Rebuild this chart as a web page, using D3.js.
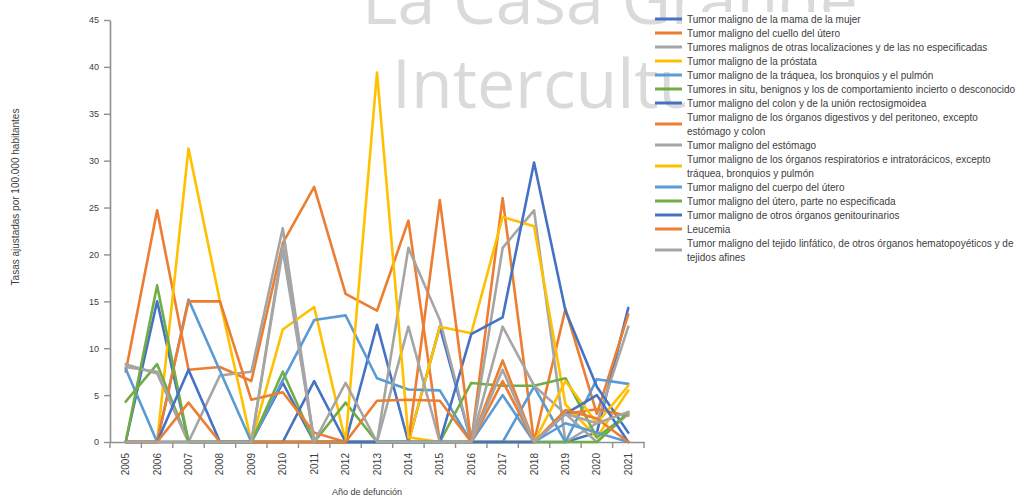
<!DOCTYPE html>
<html>
<head>
<meta charset="utf-8">
<script src="https://cdn.jsdelivr.net/npm/d3@7"></script>
<style>
  html, body { margin: 0; padding: 0; background: #fff; }
  svg { display: block; font-family: "Liberation Sans", Arial, sans-serif; }
</style>
</head>
<body>
<svg id="chart" width="1028" height="502"></svg>
<script>
// ---- Data -------------------------------------------------------------
const years = ["2005","2006","2007","2008","2009","2010","2011","2012","2013",
               "2014","2015","2016","2017","2018","2019","2020","2021"];
const yTicks = [0, 5, 10, 15, 20, 25, 30, 35, 40, 45];

const seriesNames = [
  "Tumor maligno de la mama de la mujer",
  "Tumor maligno del cuello del útero",
  "Tumores malignos de otras localizaciones y de las no especificadas",
  "Tumor maligno de la próstata",
  "Tumor maligno de la tráquea, los bronquios y el pulmón",
  "Tumores in situ, benignos y los de comportamiento incierto o desconocido",
  "Tumor maligno del colon y de la unión rectosigmoidea",
  "Tumor maligno de los órganos digestivos y del peritoneo, excepto estómago y colon",
  "Tumor maligno del estómago",
  "Tumor maligno de los órganos respiratorios e intratorácicos, excepto tráquea, bronquios y pulmón",
  "Tumor maligno del cuerpo del útero",
  "Tumor maligno del útero, parte no especificada",
  "Tumor maligno de otros órganos genitourinarios",
  "Leucemia",
  "Tumor maligno del tejido linfático, de otros órganos hematopoyéticos y de tejidos afines"
];

const mama           = [0, 15.0, 0, 0, 0, 6.3, 0, 0, 12.5, 0, 12.3, 0, 0, 0, 0, 1.0, 14.3];
const cuello         = [7.5, 24.7, 7.7, 8.0, 6.5, 21.2, 27.2, 15.8, 14.0, 23.6, 0, 0, 26.0, 0, 14.2, 3.0, 13.6];
const otras          = [8.3, 7.3, 0, 7.1, 7.5, 22.8, 0, 0, 0, 20.7, 13.0, 0, 20.7, 24.7, 0, 2.0, 12.3];
const prostata       = [0, 0, 31.3, 15.0, 0, 12.0, 14.4, 0, 0, 0, 12.3, 11.6, 24.0, 23.0, 4.0, 0.5, 5.5];
const traquea        = [7.8, 0, 15.2, 7.6, 0, 6.6, 13.0, 13.5, 6.8, 5.6, 5.5, 0, 0, 5.9, 0, 6.7, 6.2];
const inSitu         = [4.3, 8.3, 0, 0, 0, 7.5, 0, 4.2, 0, 0, 0, 6.3, 6.0, 6.0, 6.8, 0.5, 3.0];
const colon          = [0, 0, 0, 0, 0, 0, 6.5, 0, 0, 0, 0, 11.5, 13.3, 29.8, 14.0, 5.9, 1.0];
const digestivos     = [0, 0, 15.0, 15.0, 4.5, 5.3, 1.0, 0, 0, 0, 25.8, 0, 8.7, 0, 3.0, 3.5, 2.8];
const estomago       = [8.0, 7.5, 0, 0, 0, 21.0, 0, 0, 0, 12.3, 0, 0, 12.3, 6.0, 3.0, 0, 3.0];
const respiratorios  = [0, 0, 0, 0, 0, 0, 0, 0, 39.4, 0.5, 0, 0, 0, 0, 6.5, 2.0, 6.0];
const cuerpoUtero    = [0, 0, 0, 0, 0, 0, 0, 0, 0, 0, 0, 0, 5.0, 0, 2.0, 1.0, 0];
const uteroNoEspec   = [0, 16.7, 0, 0, 0, 0, 0, 0, 0, 0, 0, 0, 0, 0, 0, 0, 3.2];
const genitourinarios= [0, 0, 7.7, 0, 0, 0, 0, 0, 0, 0, 0, 0, 0, 0, 3.0, 5.0, 0];
const leucemia       = [0, 0, 4.2, 0, 0, 0, 0, 0, 4.4, 4.5, 4.4, 0, 6.5, 0, 3.4, 2.5, 0];
const linfatico      = [0, 0, 0, 0, 0, 20.5, 0, 6.3, 0, 0, 0, 0, 7.7, 0, 3.0, 2.0, 3.2];

const seriesValues = [mama, cuello, otras, prostata, traquea, inSitu, colon, digestivos,
                      estomago, respiratorios, cuerpoUtero, uteroNoEspec, genitourinarios,
                      leucemia, linfatico];

const palette = ["#4472C4", "#ED7D31", "#A5A5A5", "#FFC000", "#5B9BD5", "#70AD47"];

const series = seriesNames.map((name, i) => ({
  name,
  color: palette[i % palette.length],
  values: seriesValues[i].map((v, j) => ({ year: years[j], value: v }))
}));

// ---- Layout -----------------------------------------------------------
const svg = d3.select("#chart");
const plot = { left: 110, right: 644, top: 20, bottom: 442 };

const x = d3.scaleBand().domain(years).range([plot.left, plot.right]).padding(0);
const y = d3.scaleLinear().domain([0, 45]).range([plot.bottom, plot.top]);

// Background watermark
const wm = svg.append("g")
  .attr("font-family", "'Open Sans', 'DejaVu Sans', sans-serif")
  .attr("font-size", 68)
  .attr("fill", "#dadada");
wm.append("text").attr("x", 362).attr("y", 24).text("La Casa Grande");
wm.append("text").attr("x", 392).attr("y", 108).text("Intercultural");

// Y axis
const yAxis = svg.append("g")
  .attr("transform", `translate(${plot.left},0)`)
  .call(d3.axisLeft(y).tickValues(yTicks).tickSize(6).tickSizeOuter(0).tickPadding(5));
yAxis.select(".domain").attr("stroke", "#8f8f8f").attr("stroke-width", 1.6);
yAxis.selectAll(".tick line").attr("stroke", "#8f8f8f").attr("stroke-width", 1.4);
yAxis.selectAll(".tick text").attr("fill", "#404040").attr("font-size", 9)
  .attr("font-family", "'Liberation Sans', Arial, sans-serif");

// X axis: labels at band centres, tick marks at band edges
const xAxis = svg.append("g")
  .attr("transform", `translate(0,${plot.bottom})`)
  .call(d3.axisBottom(x).tickSize(0).tickSizeOuter(0).tickPadding(0));
xAxis.select(".domain").attr("stroke", "#8f8f8f").attr("stroke-width", 1.6);
xAxis.selectAll(".tick text")
  .attr("fill", "#404040")
  .attr("font-size", 10)
  .attr("font-family", "'Liberation Sans', Arial, sans-serif")
  .attr("transform", "rotate(-90)")
  .attr("x", -11)
  .attr("y", 0)
  .attr("dy", "0.35em")
  .style("text-anchor", "end");

const edges = years.map(d => x(d)).concat([x.range()[1]]);
xAxis.append("g").selectAll("line")
  .data(edges)
  .join("line")
  .attr("x1", d => d).attr("x2", d => d)
  .attr("y1", 0).attr("y2", 6)
  .attr("stroke", "#8f8f8f").attr("stroke-width", 1.4);

// Axis titles
svg.append("text")
  .attr("x", (plot.left + plot.right) / 2 - 10)
  .attr("y", 495)
  .attr("text-anchor", "middle")
  .attr("font-size", 9)
  .attr("fill", "#404040")
  .text("Año de defunción");

svg.append("text")
  .attr("transform", "translate(19,197) rotate(-90)")
  .attr("text-anchor", "middle")
  .attr("font-size", 10)
  .attr("fill", "#404040")
  .text("Tasas ajustadas por 100.000 habitantes");

// Lines
const line = d3.line()
  .x(d => x(d.year) + x.bandwidth() / 2)
  .y(d => y(d.value));

svg.append("g")
  .selectAll("path")
  .data(series)
  .join("path")
  .attr("d", d => line(d.values))
  .attr("fill", "none")
  .attr("stroke", d => d.color)
  .attr("stroke-width", 2.6)
  .attr("stroke-linejoin", "round")
  .attr("stroke-linecap", "round");

// Legend
const legend = svg.append("g").attr("font-size", 10).attr("fill", "#404040");
legend.append("rect")
  .attr("x", 685).attr("y", 12).attr("width", 343).attr("height", 251)
  .attr("fill", "#fff");

const textX = 687, maxW = 332, lineH = 14;
let lineIdx = 0;
series.forEach(s => {
  const t = legend.append("text").attr("x", textX);
  const words = s.name.split(" ");
  const lines = [];
  let cur = [];
  const probe = t.append("tspan");
  words.forEach(w => {
    const trial = cur.concat([w]).join(" ");
    probe.text(trial);
    if (probe.node().getComputedTextLength() > maxW && cur.length) {
      lines.push(cur.join(" "));
      cur = [w];
    } else {
      cur.push(w);
    }
  });
  lines.push(cur.join(" "));
  probe.remove();

  const firstY = 19 + lineIdx * lineH;
  lines.forEach((ln, k) => {
    t.append("tspan")
      .attr("x", textX)
      .attr("y", firstY + k * lineH)
      .attr("dy", "0.35em")
      .text(ln);
  });
  const midY = firstY + (lines.length - 1) * lineH / 2;
  legend.append("line")
    .attr("x1", 655).attr("x2", 682)
    .attr("y1", midY).attr("y2", midY)
    .attr("stroke", s.color).attr("stroke-width", 3);
  lineIdx += lines.length;
});
</script>
</body>
</html>
